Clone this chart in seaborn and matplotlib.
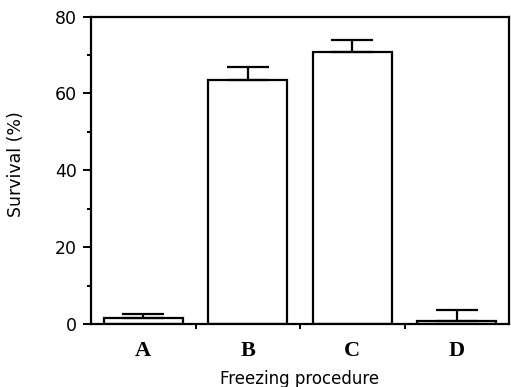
import matplotlib
matplotlib.use("Agg")
import matplotlib.pyplot as plt
import seaborn as sns
import pandas as pd
import numpy as np
from matplotlib.ticker import MultipleLocator, FixedLocator

categories = ["A", "B", "C", "D"]
survival = [1.5, 63.4, 70.7, 0.7]
error_up = [1.0, 3.4, 3.1, 2.9]

y_ticks = [0, 20, 40, 60, 80]

sns.set_style("ticks")
plt.rcParams["font.family"] = ["DejaVu Sans"]
plt.rcParams["text.color"] = "black"
plt.rcParams["axes.labelcolor"] = "black"
plt.rcParams["xtick.color"] = "black"
plt.rcParams["ytick.color"] = "black"

df = pd.DataFrame({"procedure": categories, "survival": survival})

fig = plt.figure(figsize=(5.11, 3.87), dpi=100)
ax = fig.add_axes([91/511, 1 - 324/387, (509 - 91)/511, (324 - 16.5)/387])

sns.barplot(data=df, x="procedure", y="survival", order=categories,
            color="white", edgecolor="black", linewidth=1.6, width=0.76,
            errorbar=None, ax=ax)

xpos = np.arange(len(categories))
ax.errorbar(xpos, survival, yerr=[np.zeros(len(error_up)), error_up],
            fmt="none", ecolor="black", elinewidth=1.6, capsize=15, capthick=1.6)

ax.set_xlim(-0.5, 3.5)
ax.set_ylim(0, 80)
ax.set_yticks(y_ticks)
ax.yaxis.set_minor_locator(MultipleLocator(10))
ax.xaxis.set_minor_locator(FixedLocator([0.5, 1.5, 2.5]))

for s in ax.spines.values():
    s.set_linewidth(1.6)
    s.set_color("black")
    s.set_visible(True)

ax.tick_params(axis="y", which="major", direction="out", length=6, width=1.4,
               labelsize=12.5, pad=4, colors="black")
ax.tick_params(axis="y", which="minor", direction="out", length=3, width=1.4)
ax.tick_params(axis="x", which="major", length=0, pad=12, colors="black")
ax.tick_params(axis="x", which="minor", direction="out", length=3.5, width=1.4)

ax.set_xticks(xpos)
ax.set_xticklabels(categories, fontfamily=["Liberation Serif"], fontweight="bold",
                   fontsize=16)

ax.set_xlabel("Freezing procedure", fontsize=12, labelpad=7, color="black")
ax.set_ylabel("Survival (%)", fontsize=12.5, labelpad=8, color="black")
ax.yaxis.set_label_coords(-0.157, 0.52)

fig.savefig("out.png", dpi=100)
